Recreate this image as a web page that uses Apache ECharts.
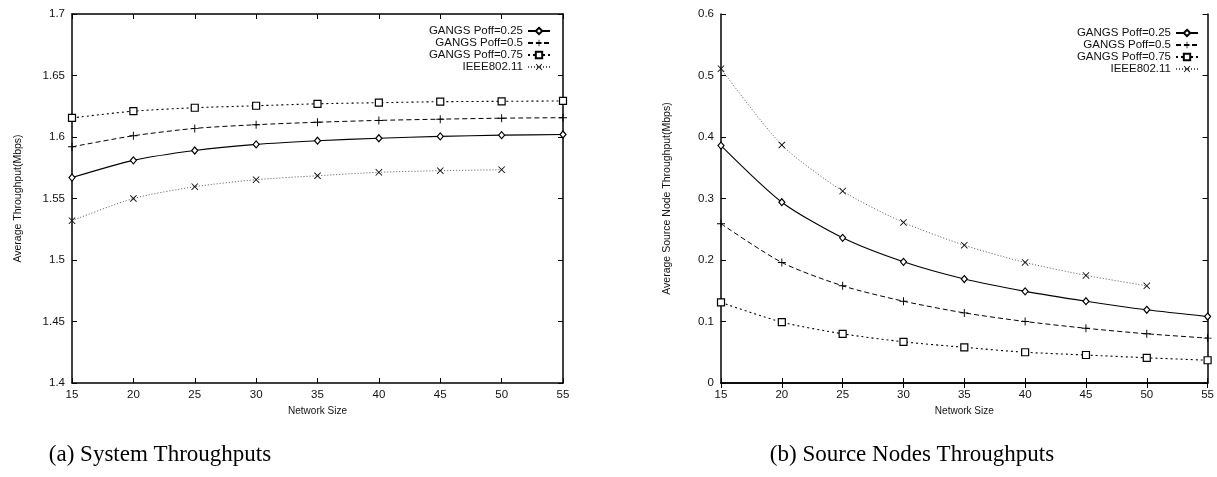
<!DOCTYPE html>
<html>
<head>
<meta charset="utf-8">
<script src="https://cdn.jsdelivr.net/npm/echarts@6/dist/echarts.min.js"></script>
<style>
  html, body { margin: 0; padding: 0; background: #fff; }
  #chart { width: 1217px; height: 477px; }
</style>
</head>
<body>
<div id="chart"></div>
<script>
// Network sizes on the x axis
const networkSizes = [15, 20, 25, 30, 35, 40, 45, 50, 55];

// (a) System throughput, Mbps
const sysPoff025 = [1.567, 1.581, 1.589, 1.594, 1.597, 1.599, 1.6005, 1.6015, 1.602];
const sysPoff05  = [1.592, 1.601, 1.607, 1.610, 1.612, 1.6135, 1.6145, 1.6153, 1.6157];
const sysPoff075 = [1.6155, 1.621, 1.6238, 1.6254, 1.627, 1.6279, 1.6287, 1.629, 1.6293];
const sysIeee    = [1.532, 1.550, 1.5596, 1.5653, 1.5685, 1.5713, 1.5726, 1.5734];

// (b) Average source node throughput, Mbps
const srcPoff025 = [0.386, 0.294, 0.236, 0.197, 0.169, 0.149, 0.133, 0.119, 0.108];
const srcPoff05  = [0.259, 0.196, 0.158, 0.133, 0.114, 0.100, 0.089, 0.080, 0.073];
const srcPoff075 = [0.131, 0.099, 0.080, 0.067, 0.058, 0.050, 0.0455, 0.041, 0.037];
const srcIeee    = [0.511, 0.387, 0.312, 0.261, 0.224, 0.196, 0.175, 0.158];

const seriesNames = ['GANGS Poff=0.25', 'GANGS Poff=0.5', 'GANGS Poff=0.75', 'IEEE802.11'];
const xTicks = { min: 15, max: 55, interval: 5 };
const sysTicks = { min: 1.4, max: 1.7, interval: 0.05 };
const srcTicks = { min: 0, max: 0.6, interval: 0.1 };

const captions = ['(a) System Throughputs', '(b) Source Nodes Throughputs'];
const xTitle = 'Network Size';
const yTitles = ['Average Throughput(Mbps)', 'Average Source Node Throughput(Mbps)'];

const pairs = (ys) => ys.map((y, i) => [networkSizes[i], y]);

const SANS = '"Liberation Sans", Arial, sans-serif';
const PLUS = 'path://M4.4,0H5.6V10H4.4ZM0,4.4H10V5.6H0Z';
const CROSS = 'path://M0,0.9L0.9,0L5,4.1L9.1,0L10,0.9L5.9,5L10,9.1L9.1,10L5,5.9L0.9,10L0,9.1L4.1,5Z';

// Per-series look: line dash, marker
const styles = [
  { line: { color: '#000', width: 1.1, type: 'solid' }, symbol: 'diamond', size: [6, 7],
    item: { color: '#fff', borderColor: '#000', borderWidth: 1.2 } },
  { line: { color: '#000', width: 1, type: [5, 3] }, symbol: PLUS, size: 8,
    item: { color: '#000', borderWidth: 0 } },
  { line: { color: '#000', width: 1.1, type: [2, 3] }, symbol: 'rect', size: 7,
    item: { color: '#fff', borderColor: '#000', borderWidth: 1.2 } },
  { line: { color: '#555', width: 1, type: [1, 2] }, symbol: CROSS, size: 7,
    item: { color: '#111', borderWidth: 0 } }
];

function makeSeries(gridIdx, dataSets) {
  return dataSets.map((ys, k) => ({
    type: 'line',
    name: seriesNames[k],
    xAxisIndex: gridIdx * 2,
    yAxisIndex: gridIdx * 2,
    data: pairs(ys),
    smooth: 0.25,
    symbol: styles[k].symbol,
    symbolSize: styles[k].size,
    showSymbol: true,
    lineStyle: styles[k].line,
    itemStyle: styles[k].item,
    emphasis: { disabled: true },
    animation: false,
    clip: false,
    z: 3
  }));
}

const tickCommon = {
  axisLine: { show: true, lineStyle: { color: '#000', width: 1.5 } },
  axisTick: { show: true, inside: true, length: 5, lineStyle: { color: '#000', width: 1 } },
  splitLine: { show: false }
};

function xAxes(gridIdx) {
  return [
    Object.assign({
      type: 'value', gridIndex: gridIdx, position: 'bottom', ...xTicks,
      name: xTitle, nameLocation: 'middle', nameGap: 16,
      nameTextStyle: { fontFamily: SANS, fontSize: 10, color: '#111' },
      axisLabel: { fontFamily: SANS, fontSize: 11.5, color: '#111', margin: 6 }
    }, tickCommon),
    Object.assign({
      type: 'value', gridIndex: gridIdx, position: 'top', ...xTicks,
      axisLabel: { show: false }
    }, tickCommon)
  ];
}

function yAxes(gridIdx, ticks, title) {
  return [
    Object.assign({
      type: 'value', gridIndex: gridIdx, position: 'left', ...ticks,
      name: title, nameLocation: 'middle', nameGap: 48, nameRotate: 90,
      nameTextStyle: { fontFamily: SANS, fontSize: 10.5, color: '#111' },
      axisLabel: { fontFamily: SANS, fontSize: 11.5, color: '#111', margin: 7 }
    }, tickCommon),
    Object.assign({
      type: 'value', gridIndex: gridIdx, position: 'right', ...ticks,
      axisLabel: { show: false }
    }, tickCommon)
  ];
}

function legend(rightPx, topPx) {
  return {
    orient: 'vertical',
    align: 'right',
    right: rightPx,
    top: topPx,
    itemWidth: 22,
    itemHeight: 8,
    itemGap: 0,
    padding: 0,
    selectedMode: false,
    data: seriesNames,
    textStyle: { fontFamily: SANS, fontSize: 11.5, lineHeight: 10, color: '#111' }
  };
}

const chart = echarts.init(document.getElementById('chart'), null, { renderer: 'canvas' });

chart.setOption({
  backgroundColor: '#fff',
  animation: false,
  grid: [
    { left: 72, top: 14, width: 491, height: 369 },
    { left: 721, top: 14, width: 491, height: 369 }
  ],
  xAxis: [...xAxes(0), ...xAxes(1)],
  yAxis: [...yAxes(0, sysTicks, yTitles[0]), ...yAxes(1, srcTicks, yTitles[1])],
  legend: [legend(666, 25), legend(18, 27)],
  series: [
    ...makeSeries(0, [sysPoff025, sysPoff05, sysPoff075, sysIeee]),
    ...makeSeries(1, [srcPoff025, srcPoff05, srcPoff075, srcIeee])
  ],
  graphic: [
    { type: 'text', x: 160, y: 455,
      style: { text: captions[0], font: '23px "Liberation Serif", "Times New Roman", serif',
               fill: '#000', align: 'center', verticalAlign: 'middle' } },
    { type: 'text', x: 912, y: 455,
      style: { text: captions[1], font: '23px "Liberation Serif", "Times New Roman", serif',
               fill: '#000', align: 'center', verticalAlign: 'middle' } }
  ]
});
</script>
</body>
</html>
